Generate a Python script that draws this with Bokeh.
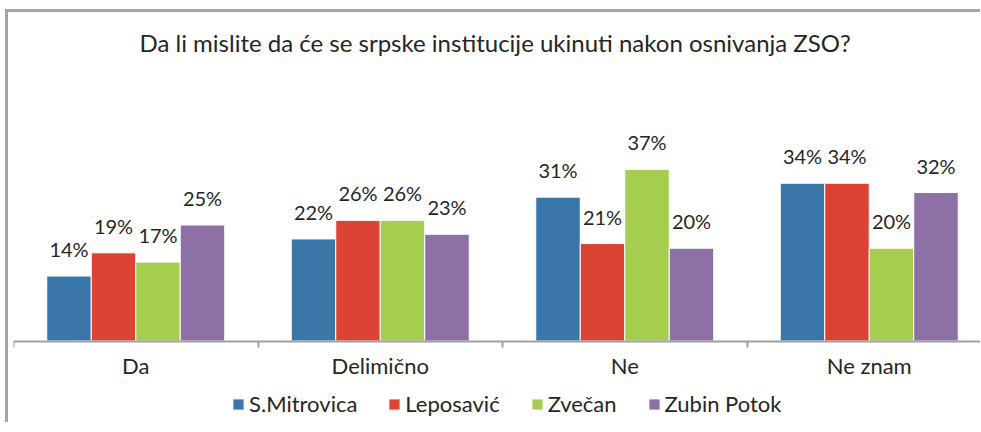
from bokeh.plotting import figure
from bokeh.models import Range1d, FixedTicker, LinearAxis, Legend, LegendItem, ColumnDataSource
from bokeh.transform import dodge
from bokeh.core.properties import value
from bokeh.embed import file_html
from bokeh.resources import INLINE

title_text = "Da li mislite da će se srpske institucije ukinuti nakon osnivanja ZSO?"
categories = ["Da", "Delimično", "Ne", "Ne znam"]
series_names = ["S.Mitrovica", "Leposavić", "Zvečan", "Zubin Potok"]
s_mitrovica = [14, 22, 31, 34]
leposavic = [19, 26, 21, 34]
zvecan = [17, 26, 37, 20]
zubin_potok = [25, 23, 20, 32]
colors = ["#3A76A8", "#DC4334", "#A5CE4E", "#8D70A5"]

FONT = "Lato"
TEXT = "#262626"
GRAY = "#A0A0A0"

centers = [i + 0.5 for i in range(len(categories))]
series_values = [s_mitrovica, leposavic, zvecan, zubin_potok]
data = {"xc": centers}
for k, vals in enumerate(series_values):
    data[f"v{k}"] = vals
    data[f"l{k}"] = [f"{v}%" for v in vals]
src = ColumnDataSource(data)

px_per_cat = 244.5
px_per_pct = 4.64
frame_w = 967
above_zero = 278.5
below_zero = 81.5
p = figure(frame_width=frame_w, frame_height=int(above_zero + below_zero),
           x_range=Range1d(0, frame_w / px_per_cat),
           y_range=Range1d(-below_zero / px_per_pct, above_zero / px_per_pct),
           output_backend="svg", toolbar_location=None,
           x_axis_type=None, y_axis_type=None,
           min_border_left=5, min_border_right=0, min_border_top=50, min_border_bottom=0)
p.outline_line_color = None
p.background_fill_color = "white"
p.border_fill_color = "white"
p.styles = {"border-left": "3px solid #A5A5A5", "border-top": "3px solid #A5A5A5",
            "margin-left": "5px", "margin-top": "9px"}

p.title.text = title_text
p.title.align = "left"
p.title.offset = 126
p.title.text_font = FONT
p.title.text_font_size = "24px"
p.title.text_font_style = "normal"
p.title.text_color = TEXT
p.title.standoff = 12

w = 0.182
offsets = [-1.5 * w, -0.5 * w, 0.5 * w, 1.5 * w]
renderers = []
for k in range(4):
    r = p.vbar(x=dodge("xc", offsets[k]), top=f"v{k}", width=w, source=src,
               fill_color=colors[k], line_color="white", line_width=1)
    renderers.append(r)
    p.text(x=dodge("xc", offsets[k]), y=f"v{k}", text=f"l{k}", source=src,
           text_align="center", text_baseline="alphabetic", y_offset=-27,
           text_font=value(FONT), text_font_size="20px", text_color=TEXT)

ax = LinearAxis(ticker=FixedTicker(ticks=centers, minor_ticks=[0, 1, 2, 3, 4]),
                major_label_overrides={c: n for c, n in zip(centers, categories)})
ax.fixed_location = 0
ax.axis_line_color = GRAY
ax.axis_line_width = 2
ax.major_tick_line_color = None
ax.major_tick_out = 0
ax.major_tick_in = 0
ax.minor_tick_line_color = GRAY
ax.minor_tick_line_width = 2
ax.minor_tick_out = 6
ax.minor_tick_in = 0
ax.major_label_text_font = FONT
ax.major_label_text_font_size = "22px"
ax.major_label_text_color = TEXT
ax.major_label_standoff = 5
p.add_layout(ax, "below")

legend = Legend(items=[LegendItem(label=n, renderers=[r]) for n, r in zip(series_names, renderers)],
                orientation="horizontal", location=(218, 5),
                border_line_color=None, background_fill_alpha=0,
                label_text_font=FONT, label_text_font_size="22px", label_text_color=TEXT,
                glyph_width=14, glyph_height=14, label_height=20, label_standoff=4, spacing=30,
                padding=0, margin=0)
p.add_layout(legend)

open("out.html", "w").write(file_html(p, INLINE))
